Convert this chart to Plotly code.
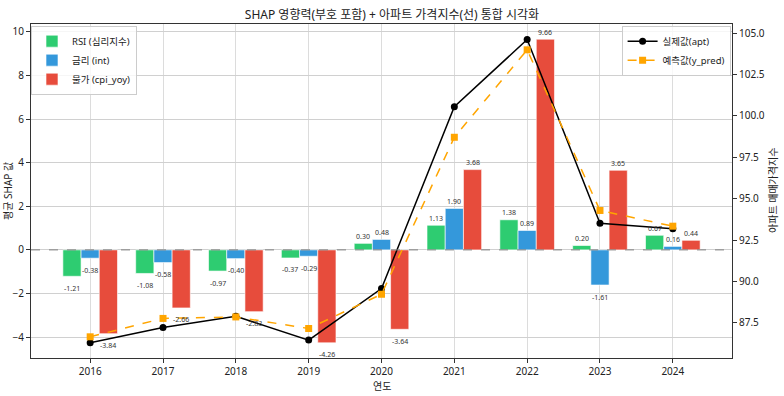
import plotly.graph_objects as go

years = [2016, 2017, 2018, 2019, 2020, 2021, 2022, 2023, 2024]
rsi = [-1.21, -1.08, -0.97, -0.37, 0.30, 1.13, 1.38, 0.20, 0.67]
intr = [-0.38, -0.58, -0.40, -0.29, 0.48, 1.90, 0.89, -1.61, 0.16]
cpi = [-3.84, -2.66, -2.83, -4.26, -3.64, 3.68, 9.66, 3.65, 0.44]
apt = [86.30, 87.22, 87.90, 86.46, 89.57, 100.56, 104.61, 93.52, 93.19]
y_pred = [86.66, 87.77, 87.86, 87.16, 89.23, 98.71, 103.99, 94.29, 93.34]

bar_series = [
    ("RSI (심리지수)", rsi, "#2ecc71", -0.25),
    ("금리 (int)", intr, "#3498db", 0.0),
    ("물가 (cpi_yoy)", cpi, "#e74c3c", 0.25),
]

FONT = "Noto Sans, Noto Sans CJK KR, DejaVu Sans, sans-serif"
fig = go.Figure()
annotations = []
for name, vals, color, off in bar_series:
    fig.add_trace(go.Bar(
        x=years, y=vals, name=name, marker_color=color,
        marker_line=dict(color="rgba(255,255,255,0.6)", width=1),
        legend="legend", yaxis="y",
    ))
    for yr, v in zip(years, vals):
        annotations.append(dict(
            x=yr + off, y=v, xref="x", yref="y", text=f"{v:.2f}",
            showarrow=False, font=dict(size=7, color="#333", family=FONT),
            yshift=7 if v >= 0 else -12,
        ))

fig.add_trace(go.Scatter(
    x=years, y=apt, name="실제값(apt)", yaxis="y2", mode="lines+markers",
    line=dict(color="black", width=1.5), marker=dict(symbol="circle", size=7, color="black"),
    legend="legend2",
))
fig.add_trace(go.Scatter(
    x=years, y=y_pred, name="예측값(y_pred)", yaxis="y2", mode="lines+markers",
    line=dict(color="#FFA500", width=1.5, dash="dash"),
    marker=dict(symbol="square", size=7, color="#FFA500"),
    legend="legend2",
))

fig.add_shape(type="line", xref="paper", yref="y", x0=0, x1=1, y0=0, y1=0,
              line=dict(color="gray", width=1, dash="dash"))

# axis titles as annotations for precise placement
annotations += [
    dict(text="평균 SHAP 값", xref="paper", yref="paper", x=-0.0328, y=0.5,
         textangle=-90, showarrow=False, font=dict(size=10, color="#222", family=FONT),
         xanchor="center", yanchor="middle"),
    dict(text="아파트 매매가격지수", xref="paper", yref="paper", x=1.0585, y=0.5,
         textangle=-90, showarrow=False, font=dict(size=10, color="#222", family=FONT),
         xanchor="center", yanchor="middle"),
    dict(text="연도", xref="paper", yref="paper", x=0.5, y=-0.083,
         showarrow=False, font=dict(size=10, color="#222", family=FONT),
         xanchor="center", yanchor="middle"),
]

axis_common = dict(showline=True, linecolor="#333", linewidth=1, ticks="outside",
                   ticklen=4, tickcolor="#333", tickfont=dict(size=10, color="#222"),
                   automargin=False)

fig.update_layout(
    width=784, height=396,
    margin=dict(l=31, r=52, t=24, b=38),
    paper_bgcolor="white", plot_bgcolor="white",
    font=dict(family=FONT, color="#222"),
    barmode="group", bargap=0.25, bargroupgap=0,
    title=dict(text="SHAP 영향력(부호 포함) + 아파트 가격지수(선) 통합 시각화",
               x=0.5, xanchor="center", y=0.962, yanchor="middle",
               font=dict(size=12, color="#222")),
    xaxis=dict(range=[2015.1875, 2024.8125], tickvals=years, mirror=True,
               showgrid=True, gridcolor="#dcdcdc", gridwidth=1, **axis_common),
    yaxis=dict(range=[-4.956, 10.356], dtick=2, tick0=0, showgrid=True,
               gridcolor="#d0d0d0", zeroline=False, **axis_common),
    yaxis2=dict(range=[85.38, 105.55], dtick=2.5, tick0=87.5, tickformat=".1f",
                overlaying="y", side="right", showgrid=False, zeroline=False, **axis_common),
    legend=dict(x=0.0, y=0.995, xanchor="left", yanchor="top",
                bgcolor="rgba(255,255,255,0.8)", bordercolor="#ccc", borderwidth=1,
                font=dict(size=9.5), tracegroupgap=0, itemwidth=30),
    legend2=dict(x=0.998, y=0.995, xanchor="right", yanchor="top",
                 bgcolor="rgba(255,255,255,0.8)", bordercolor="#ccc", borderwidth=1,
                 font=dict(size=9.5), itemwidth=30),
    annotations=annotations,
    showlegend=True,
)

fig.write_html("out.html", config={"displayModeBar": False},
               post_script="document.body.style.margin='0';document.body.style.padding='0';")
